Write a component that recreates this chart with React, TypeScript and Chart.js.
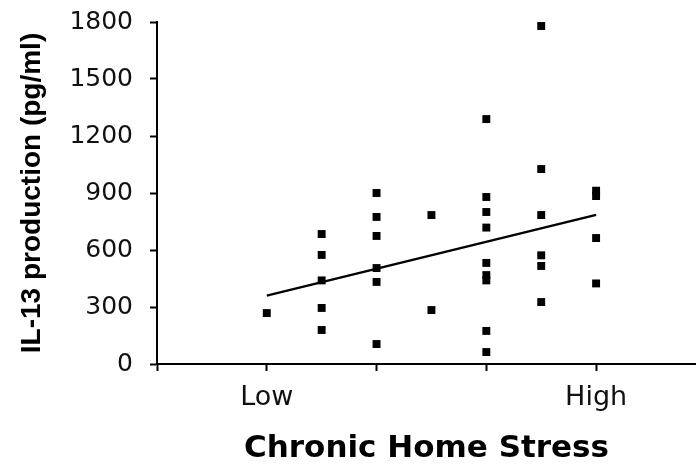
import React, { useEffect, useRef } from "react";
import { Chart, registerables } from "chart.js";

Chart.register(...registerables);

// Stress level (1 = Low, 4 = High) of each subject
const stressLevel = [
  1,
  1.5, 1.5, 1.5, 1.5, 1.5,
  2, 2, 2, 2, 2, 2,
  2.5, 2.5,
  3, 3, 3, 3, 3, 3, 3, 3, 3,
  3.5, 3.5, 3.5, 3.5, 3.5, 3.5,
  4, 4, 4, 4,
];

// IL-13 production (pg/ml) of each subject
const il13 = [
  268,
  684, 574, 440, 295, 179,
  900, 774, 674, 505, 432, 105,
  784, 284,
  1289, 879, 800, 718, 532, 468, 440, 174, 63,
  1779, 1026, 784, 572, 516, 326,
  912, 884, 663, 424,
];

// Fitted regression line end points
const trendX = [1, 4];
const trendY = [360, 785];

const xTickValues = [0, 1, 2, 3, 4];
const xTickLabels = ["", "Low", "", "", "High"];
const yTickValues = [0, 300, 600, 900, 1200, 1500, 1800];

const xTitle = "Chronic Home Stress";
const yTitle = "IL-13 production (pg/ml)";

export default function App() {
  const ref = useRef<HTMLCanvasElement | null>(null);

  useEffect(() => {
    if (!ref.current) return;
    const points = stressLevel.map((x, i) => ({ x, y: il13[i] }));
    const line = trendX.map((x, i) => ({ x, y: trendY[i] }));
    const chart = new Chart(ref.current, {
      type: "scatter",
      data: {
        datasets: [
          {
            label: "Subjects",
            data: points,
            pointStyle: "rect",
            pointRadius: 5.6,
            pointBackgroundColor: "#000",
            pointBorderWidth: 0,
            showLine: false,
          },
          {
            label: "Trend",
            data: line,
            showLine: true,
            borderColor: "#000",
            borderWidth: 2.5,
            pointRadius: 0,
            fill: false,
          },
        ],
      },
      options: {
        animation: false,
        responsive: false,
        devicePixelRatio: 1,
        layout: { autoPadding: false, padding: { top: 22, left: 0, right: 0, bottom: 0 } },
        plugins: {
          legend: { display: false },
          tooltip: { enabled: false },
        },
        scales: {
          x: {
            type: "linear",
            min: 0,
            max: 4.91,
            afterBuildTicks: (scale: any) => {
              scale.ticks = xTickValues.map((v) => ({ value: v }));
            },
            afterFit: (scale: any) => {
              scale.height = 104;
              scale.paddingLeft = 0;
              scale.paddingRight = 0;
            },
            ticks: {
              autoSkip: false,
              maxRotation: 0,
              padding: 11,
              color: "#111",
              font: { family: "DejaVu Sans", size: 27 },
              callback: (v: any) => {
                const idx = xTickValues.indexOf(Number(v));
                return idx >= 0 ? xTickLabels[idx] : "";
              },
            },
            grid: {
              drawOnChartArea: false,
              drawTicks: true,
              tickLength: 7,
              tickWidth: 2,
              tickColor: "#000",
            },
            border: { display: true, color: "#000", width: 2 },
            title: {
              display: true,
              text: xTitle,
              color: "#000",
              font: { family: "DejaVu Sans", size: 31, weight: "bold" },
              padding: { top: 0, bottom: 0 },
            },
          },
          y: {
            type: "linear",
            min: 0,
            max: 1800,
            afterBuildTicks: (scale: any) => {
              scale.ticks = yTickValues.map((v) => ({ value: v }));
            },
            afterFit: (scale: any) => {
              scale.width = 157;
              scale.paddingTop = 0;
              scale.paddingBottom = 0;
            },
            ticks: {
              padding: 17,
              color: "#111",
              font: { family: "DejaVu Sans", size: 25 },
              callback: (v: any) => String(v),
            },
            grid: {
              drawOnChartArea: false,
              drawTicks: true,
              tickLength: 7,
              tickWidth: 2,
              tickColor: "#000",
            },
            border: { display: true, color: "#000", width: 2 },
            title: {
              display: true,
              text: yTitle,
              color: "#000",
              font: { family: "Liberation Sans", size: 28, weight: "bold" },
              padding: { top: 15, bottom: 0 },
            },
          },
        },
      },
    });
    return () => chart.destroy();
  }, []);

  return (
    <div style={{ position: "fixed", left: 0, top: 0, width: 696, height: 468, background: "#fff" }}>
      <canvas ref={ref} width={696} height={468} style={{ display: "block" }} />
    </div>
  );
}
